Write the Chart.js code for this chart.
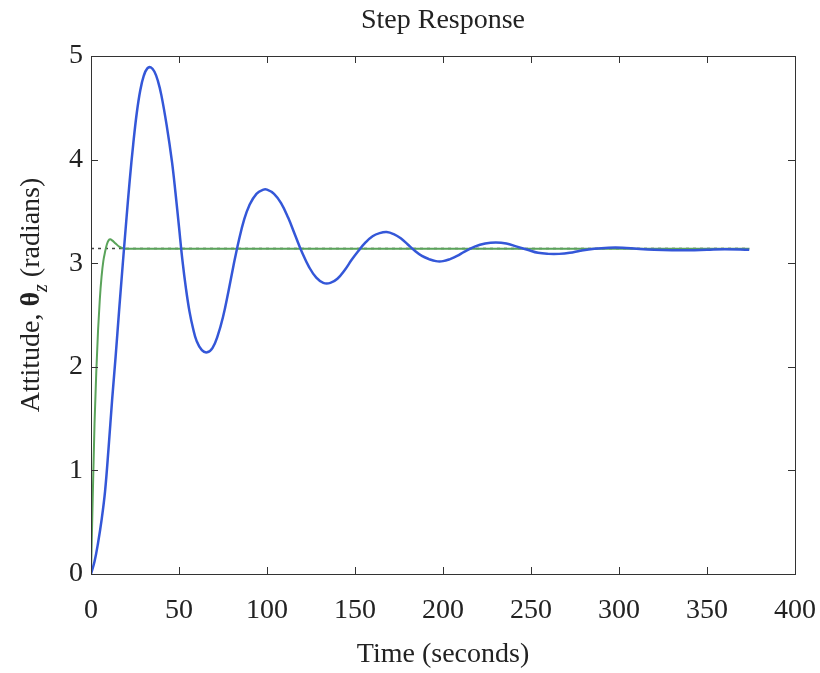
<!DOCTYPE html>
<html>
<head>
<meta charset="utf-8">
<script src="https://cdn.jsdelivr.net/npm/chart.js@4.4.1/dist/chart.umd.min.js"></script>
<style>
  body { margin: 0; background: #fff; }
  canvas { display: block; }
</style>
</head>
<body>
<canvas id="chart" width="820" height="673"></canvas>
<script>
// valores (tempo em segundos, atitude em radianos)
const blueTime = [0, 2, 4, 6, 8, 10, 12, 14, 16, 18, 20, 22, 24, 26, 28, 30, 32, 34, 36, 38, 40, 43, 46, 48, 50, 52, 54, 56, 58, 60, 63, 66, 69, 72, 75, 78, 81, 84, 87, 90, 94, 98, 100, 104, 108, 112, 116, 120, 124, 128, 132, 136, 140, 144, 148, 152, 156, 160, 164, 168, 172, 176, 180, 184, 188, 192, 196, 200, 204, 208, 212, 218, 224, 230, 236, 242, 248, 254, 260, 266, 272, 278, 286, 294, 302, 310, 320, 330, 340, 350, 360, 374];
const blueValues = [0, 0.12, 0.3, 0.52, 0.8, 1.22, 1.68, 2.1, 2.55, 2.98, 3.4, 3.8, 4.15, 4.45, 4.67, 4.81, 4.88, 4.89, 4.85, 4.76, 4.62, 4.33, 3.98, 3.68, 3.35, 3.02, 2.75, 2.53, 2.37, 2.25, 2.16, 2.14, 2.18, 2.3, 2.48, 2.72, 2.98, 3.22, 3.42, 3.56, 3.67, 3.71, 3.71, 3.67, 3.58, 3.44, 3.27, 3.1, 2.96, 2.86, 2.81, 2.81, 2.85, 2.93, 3.03, 3.12, 3.2, 3.26, 3.29, 3.3, 3.28, 3.24, 3.18, 3.12, 3.07, 3.04, 3.02, 3.02, 3.04, 3.07, 3.11, 3.16, 3.19, 3.2, 3.19, 3.16, 3.13, 3.1, 3.09, 3.09, 3.1, 3.12, 3.14, 3.15, 3.15, 3.14, 3.13, 3.125, 3.125, 3.13, 3.135, 3.13];

const greenTime = [0, 1, 2, 3, 4, 5, 6, 7, 8, 9, 10, 11, 12, 14, 16, 18, 20, 374];
const greenValues = [0, 0.75, 1.45, 1.95, 2.35, 2.65, 2.87, 3.02, 3.11, 3.18, 3.22, 3.23, 3.22, 3.19, 3.16, 3.145, 3.14, 3.14];

const finalTime = [0, 374];
const finalValues = [3.1416, 3.1416];

const xTicks = [0, 50, 100, 150, 200, 250, 300, 350, 400];
const yTicks = [0, 1, 2, 3, 4, 5];

function toPoints(xs, ys) {
    return xs.map((x, i) => ({ x: x, y: ys[i] }));
}

// caixa, marcas internas e titulos desenhados a mao
const molduraPlugin = {
    id: 'moldura',
    afterDraw(chart) {
        const ctx = chart.ctx;
        const a = chart.chartArea;
        const sx = chart.scales.x;
        const sy = chart.scales.y;
        const tl = 7;
        ctx.save();
        ctx.strokeStyle = '#333';
        ctx.lineWidth = 1;
        ctx.strokeRect(a.left + 0.5, a.top + 0.5, a.right - a.left, a.bottom - a.top);
        ctx.beginPath();
        xTicks.forEach(v => {
            const px = Math.round(sx.getPixelForValue(v)) + 0.5;
            ctx.moveTo(px, a.bottom); ctx.lineTo(px, a.bottom - tl);
            ctx.moveTo(px, a.top); ctx.lineTo(px, a.top + tl);
        });
        yTicks.forEach(v => {
            const py = Math.round(sy.getPixelForValue(v)) + 0.5;
            ctx.moveTo(a.left, py); ctx.lineTo(a.left + tl, py);
            ctx.moveTo(a.right, py); ctx.lineTo(a.right - tl, py);
        });
        ctx.stroke();

        const cx = (a.left + a.right) / 2;
        ctx.fillStyle = '#222';
        ctx.textAlign = 'center';
        ctx.textBaseline = 'middle';
        ctx.font = '28px "Liberation Serif"';
        ctx.fillText('Step Response', cx, 21);
        ctx.fillText('Time (seconds)', cx, 655);

        // rotulo do eixo y com subscrito
        ctx.translate(32, 295);
        ctx.rotate(-Math.PI / 2);
        const partes = [
            { t: 'Attitude, ', f: '28px "Liberation Serif"', dy: 0 },
            { t: 'θ', f: 'bold 28px "Liberation Serif"', dy: 0 },
            { t: 'z', f: 'italic 20px "Liberation Serif"', dy: 10 },
            { t: ' (radians)', f: '28px "Liberation Serif"', dy: 0 }
        ];
        let total = 0;
        partes.forEach(p => { ctx.font = p.f; total += ctx.measureText(p.t).width; });
        let x = -total / 2;
        ctx.textAlign = 'left';
        partes.forEach(p => {
            ctx.font = p.f;
            ctx.fillText(p.t, x, p.dy);
            x += ctx.measureText(p.t).width;
        });
        ctx.restore();
    }
};

const tickFont = { family: 'Liberation Serif', size: 28 };

new Chart(document.getElementById('chart').getContext('2d'), {
    type: 'line',
    data: {
        datasets: [
            {
                data: toPoints(blueTime, blueValues),
                borderColor: '#3457d8',
                borderWidth: 2.5,
                pointRadius: 0,
                tension: 0.4,
                fill: false
            },
            {
                data: toPoints(greenTime, greenValues),
                borderColor: '#5aa35a',
                borderWidth: 2,
                pointRadius: 0,
                cubicInterpolationMode: 'monotone',
                fill: false
            },
            {
                data: toPoints(finalTime, finalValues),
                borderColor: '#444',
                borderWidth: 1.5,
                borderDash: [3, 4],
                pointRadius: 0,
                fill: false
            }
        ]
    },
    options: {
        responsive: false,
        animation: false,
        devicePixelRatio: 1,
        layout: { padding: { top: 56, right: 25, left: 0, bottom: 0 } },
        plugins: {
            legend: { display: false },
            title: { display: false },
            tooltip: { enabled: false }
        },
        scales: {
            x: {
                type: 'linear',
                min: 0,
                max: 400,
                afterFit: s => { s.height = 99; s.paddingLeft = 0; s.paddingRight = 0; },
                afterBuildTicks: s => { s.ticks = xTicks.map(v => ({ value: v })); },
                grid: { display: false, drawTicks: false },
                border: { display: false },
                ticks: { font: tickFont, color: '#222', padding: 20, maxRotation: 0 }
            },
            y: {
                type: 'linear',
                min: 0,
                max: 5,
                afterFit: s => { s.width = 91; s.paddingTop = 0; s.paddingBottom = 0; },
                afterBuildTicks: s => { s.ticks = yTicks.map(v => ({ value: v })); },
                grid: { display: false, drawTicks: false },
                border: { display: false },
                ticks: { font: tickFont, color: '#222', padding: 8 }
            }
        }
    },
    plugins: [molduraPlugin]
});
</script>
</body>
</html>
